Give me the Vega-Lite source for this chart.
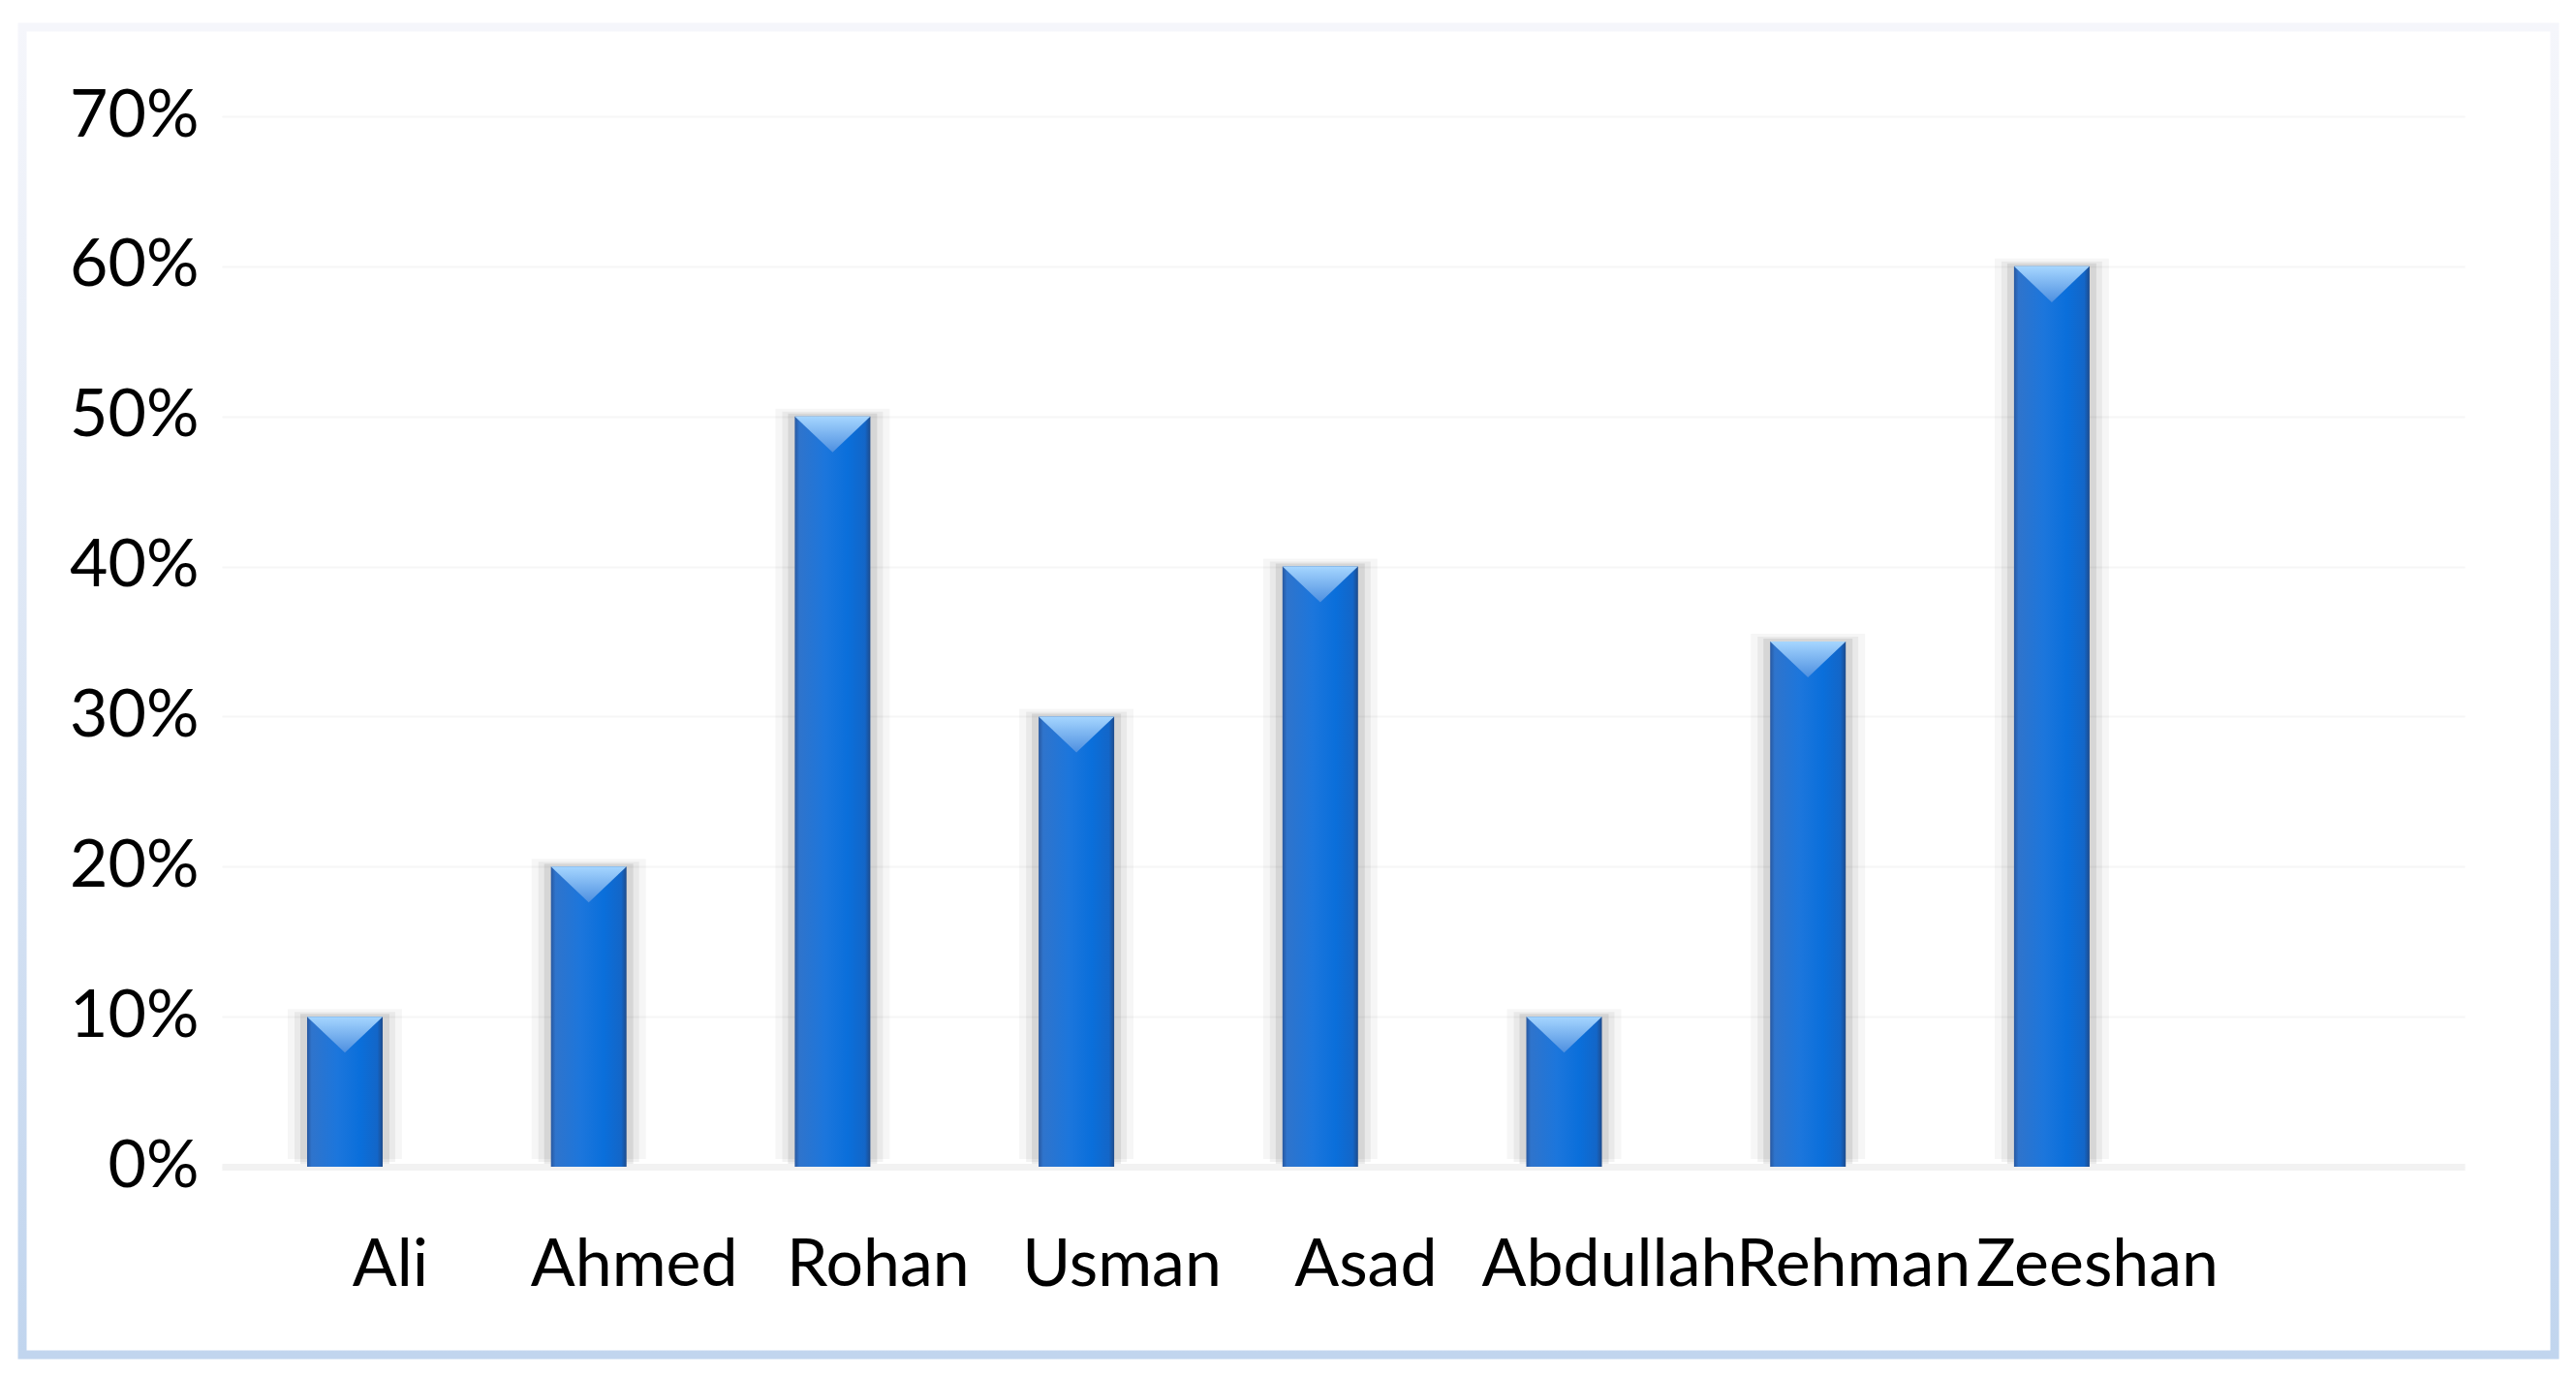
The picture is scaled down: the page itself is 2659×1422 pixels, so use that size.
{
  "$schema": "https://vega.github.io/schema/vega-lite/v6.json",
  "autosize": {"type": "none"},
  "padding": {"left": 23, "top": 28, "right": 22, "bottom": 24},
  "width": 2614,
  "height": 1370,
  "background": "#ffffff",
  "config": {
    "view": {"stroke": null},
    "font": "Lato",
    "axis": {"labelFont": "Lato", "labelFontSize": 68, "labelColor": "#000000", "title": null, "labelLimit": 0}
  },
  "data": {
    "values": [
      {"name": "Ali", "score": 0.10},
      {"name": "Ahmed", "score": 0.20},
      {"name": "Rohan", "score": 0.50},
      {"name": "Usman", "score": 0.30},
      {"name": "Asad", "score": 0.40},
      {"name": "Abdullah", "score": 0.10},
      {"name": "Rehman", "score": 0.35},
      {"name": "Zeeshan", "score": 0.60}
    ]
  },
  "layer": [
    {
      "data": {"values": [{}]},
      "mark": {
        "type": "rect",
        "fill": null,
        "strokeWidth": 9,
        "stroke": {
          "gradient": "linear", "x1": 0, "y1": 0, "x2": 0, "y2": 1,
          "stops": [{"offset": 0, "color": "#f5f6fb"}, {"offset": 1, "color": "#c1d5ee"}]
        }
      },
      "encoding": {}
    },
    {
      "mark": {"type": "bar", "width": 118, "color": "#000000", "opacity": 0.035, "yOffset": -8, "y2Offset": 7},
      "encoding": {
        "x": {
          "field": "name", "type": "nominal", "sort": null,
          "scale": {"range": [206, 2521], "paddingInner": 0.69, "paddingOuter": 0.9437, "align": 0.1852},
          "axis": {
            "offset": -194, "ticks": false, "domain": true, "domainColor": "#f2f2f2", "domainWidth": 7,
            "labelAngle": 0, "labelOverlap": false, "labelPadding": 68, "labelOffset": 47, "labelBaseline": "top", "labelBound": false, "labelLimit": 0
          }
        },
        "y": {
          "field": "score", "type": "quantitative",
          "scale": {"domain": [0, 0.7], "range": [1176, 92], "nice": false, "zero": true},
          "axis": {
            "values": [0, 0.1, 0.2, 0.3, 0.4, 0.5, 0.6, 0.7], "format": ".0%",
            "offset": -206, "ticks": false, "domain": false, "labelPadding": 24,
            "grid": true, "gridColor": "#f6f6f6", "gridWidth": 2
          }
        }
      }
    },
    {
      "mark": {"type": "bar", "width": 104, "color": "#000000", "opacity": 0.05, "yOffset": -5, "y2Offset": 5},
      "encoding": {
        "x": {"field": "name", "type": "nominal", "sort": null},
        "y": {"field": "score", "type": "quantitative"}
      }
    },
    {
      "mark": {"type": "bar", "width": 92, "color": "#000000", "opacity": 0.08, "yOffset": -3, "y2Offset": 3},
      "encoding": {
        "x": {"field": "name", "type": "nominal", "sort": null},
        "y": {"field": "score", "type": "quantitative"}
      }
    },
    {
      "mark": {
        "type": "bar", "width": 78,
        "fill": {
          "gradient": "linear", "x1": 0, "y1": 0, "x2": 1, "y2": 0,
          "stops": [
            {"offset": 0, "color": "#2858a0"},
            {"offset": 0.06, "color": "#2f74cc"},
            {"offset": 0.4, "color": "#1c76dc"},
            {"offset": 0.7, "color": "#0a6fdb"},
            {"offset": 0.93, "color": "#1366c8"},
            {"offset": 1, "color": "#1d4b8c"}
          ]
        }
      },
      "encoding": {
        "x": {"field": "name", "type": "nominal", "sort": null},
        "y": {"field": "score", "type": "quantitative"}
      }
    },
    {
      "mark": {
        "type": "point", "shape": "M-1,0L1,0L0,0.95Z", "size": 6084, "filled": true, "opacity": 1, "strokeWidth": 0,
        "fill": {
          "gradient": "linear", "x1": 0, "y1": 0, "x2": 0, "y2": 1,
          "stops": [{"offset": 0, "color": "#a6d6ff"}, {"offset": 1, "color": "#4d8fe0"}]
        }
      },
      "encoding": {
        "x": {"field": "name", "type": "nominal", "sort": null},
        "y": {"field": "score", "type": "quantitative"}
      }
    }
  ]
}
